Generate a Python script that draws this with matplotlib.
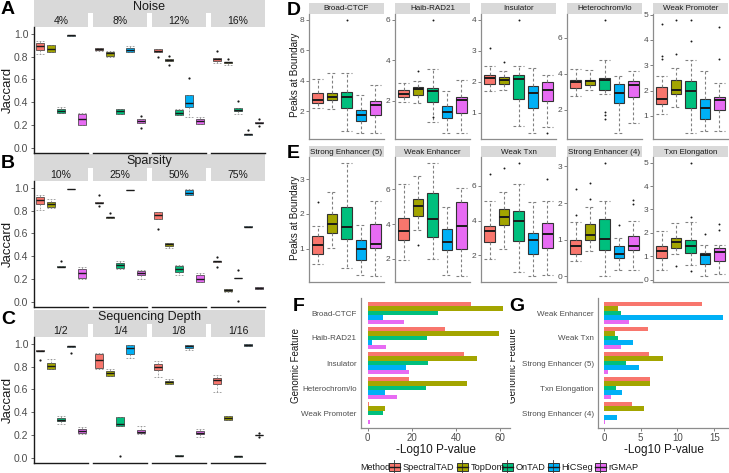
import matplotlib
matplotlib.use("Agg")
import matplotlib.pyplot as plt
from matplotlib.patches import Rectangle

plt.rcParams['font.family'] = ['Liberation Sans', 'DejaVu Sans']

W, H = 729, 473

methods = ["SpectralTAD", "TopDom", "OnTAD", "HiCSeg", "rGMAP"]
colors = ["#F8766D", "#A3A500", "#00BF7D", "#00B0F6", "#E76BF3"]

# ── A: Noise ─────────────────────────────────────────────────────────────────
noise_labels = ["4%", "8%", "12%", "16%"]
noise_med = [[0.89, 0.87, 0.32, 0.99, 0.25], [0.87, 0.83, 0.32, 0.855, 0.235],
             [0.85, 0.77, 0.31, 0.39, 0.235], [0.78, 0.75, 0.335, 0.12, 0.22]]
noise_q1 = [[0.86, 0.84, 0.31, 0.985, 0.20], [0.855, 0.81, 0.30, 0.84, 0.22],
            [0.84, 0.765, 0.29, 0.355, 0.21], [0.76, 0.745, 0.32, 0.11, 0.215]]
noise_q3 = [[0.92, 0.90, 0.34, 0.992, 0.30], [0.88, 0.84, 0.34, 0.875, 0.25],
            [0.865, 0.775, 0.33, 0.46, 0.25], [0.79, 0.755, 0.35, 0.125, 0.225]]
noise_lo = [[0.82, 0.84, 0.31, 0.985, 0.20], [0.85, 0.80, 0.30, 0.84, 0.22],
            [0.84, 0.765, 0.29, 0.27, 0.21], [0.74, 0.73, 0.30, 0.11, 0.215]]
noise_hi = [[0.94, 0.90, 0.36, 0.992, 0.31], [0.88, 0.85, 0.34, 0.89, 0.25],
            [0.865, 0.775, 0.34, 0.46, 0.27], [0.79, 0.755, 0.35, 0.125, 0.225]]
noise_out = [[[], [], [], [], []], [[], [], [], [], [0.28, 0.17]],
             [[0.80], [0.81, 0.73], [], [0.61], []], [[0.85], [0.78], [0.41], [0.16], [0.25, 0.19]]]

# ── B: Sparsity ──────────────────────────────────────────────────────────────
sparsity_labels = ["10%", "25%", "50%", "75%"]
sparsity_med = [[0.89, 0.86, 0.31, 0.99, 0.255], [0.87, 0.74, 0.325, 0.98, 0.25],
                [0.76, 0.505, 0.285, 0.955, 0.20], [0.355, 0.105, 0.21, 0.66, 0.125]]
sparsity_q1 = [[0.86, 0.83, 0.305, 0.987, 0.21], [0.867, 0.737, 0.30, 0.978, 0.24],
               [0.73, 0.49, 0.265, 0.935, 0.17], [0.352, 0.095, 0.207, 0.657, 0.115]]
sparsity_q3 = [[0.92, 0.88, 0.315, 0.992, 0.29], [0.873, 0.743, 0.34, 0.982, 0.275],
               [0.785, 0.52, 0.315, 0.985, 0.24], [0.358, 0.115, 0.213, 0.663, 0.13]]
sparsity_lo = [[0.81, 0.82, 0.305, 0.987, 0.20], [0.867, 0.737, 0.29, 0.978, 0.20],
               [0.73, 0.47, 0.24, 0.935, 0.17], [0.352, 0.09, 0.207, 0.657, 0.115]]
sparsity_hi = [[0.94, 0.90, 0.315, 0.992, 0.31], [0.873, 0.743, 0.36, 0.982, 0.28],
               [0.79, 0.52, 0.32, 0.99, 0.25], [0.358, 0.115, 0.213, 0.663, 0.13]]
sparsity_out = [[[], [], [0.36], [], []], [[0.94, 0.84], [0.78], [], [], []],
                [[0.64], [], [], [], []], [[0.39, 0.31], [], [0.28, 0.01], [], []]]

# ── C: Sequencing depth ──────────────────────────────────────────────────────
depth_labels = ["1/2", "1/4", "1/8", "1/16"]
depth_med = [[0.94, 0.81, 0.335, 0.98, 0.235], [0.86, 0.74, 0.30, 0.96, 0.23],
             [0.80, 0.665, 0.02, 0.98, 0.22], [0.68, 0.35, 0.015, 0.99, 0.20]]
depth_q1 = [[0.935, 0.78, 0.32, 0.975, 0.215], [0.79, 0.72, 0.28, 0.91, 0.215],
            [0.77, 0.65, 0.018, 0.96, 0.21], [0.65, 0.33, 0.01, 0.985, 0.197]]
depth_q3 = [[0.945, 0.83, 0.35, 0.985, 0.255], [0.91, 0.76, 0.355, 0.99, 0.245],
            [0.82, 0.675, 0.022, 0.99, 0.235], [0.70, 0.365, 0.02, 0.995, 0.203]]
depth_lo = [[0.935, 0.78, 0.30, 0.975, 0.21], [0.78, 0.72, 0.28, 0.88, 0.21],
            [0.71, 0.65, 0.018, 0.95, 0.18], [0.58, 0.33, 0.01, 0.985, 0.197]]
depth_hi = [[0.945, 0.87, 0.37, 0.985, 0.27], [0.92, 0.78, 0.36, 0.99, 0.28],
            [0.85, 0.69, 0.022, 0.99, 0.25], [0.73, 0.37, 0.02, 0.995, 0.203]]
depth_out = [[[0.86], [], [], [0.92], []], [[], [], [0.02], [], []],
             [[], [], [], [], []], [[], [], [], [], [0.22, 0.18]]]

# ── D: peaks at boundary ─────────────────────────────────────────────────────
d_facets = ["Broad-CTCF", "Haib-RAD21", "Insulator", "Heterochrom/lo", "Weak Promoter"]
d_ticks = [[2, 4, 6, 8], [2, 4, 6], [1, 2, 3, 4], [2, 4, 6], [1, 2, 3, 4, 5]]
d_med = [[2.77, 2.95, 2.95, 1.80, 2.44], [2.33, 2.58, 2.51, 1.47, 2.05],
         [2.13, 2.06, 2.07, 1.63, 1.73], [3.52, 3.59, 3.67, 2.92, 3.39],
         [1.67, 2.03, 2.00, 1.33, 1.63]]
d_q1 = [[2.57, 2.73, 2.24, 1.36, 1.78], [2.18, 2.30, 1.93, 1.14, 1.39],
        [1.92, 1.92, 1.44, 1.14, 1.38], [3.20, 3.39, 3.07, 2.36, 2.68],
        [1.46, 1.86, 1.33, 0.87, 1.24]]
d_q3 = [[3.21, 3.21, 3.25, 2.10, 2.66], [2.54, 2.67, 2.63, 1.75, 2.18],
        [2.22, 2.14, 2.22, 1.86, 1.98], [3.63, 3.67, 3.74, 3.44, 3.61],
        [2.14, 2.43, 2.39, 1.66, 1.73]]
d_lo = [[2.24, 2.18, 0.75, 0.57, 0.57], [1.93, 1.88, 0.98, 0.40, 0.40],
        [1.70, 1.73, 0.58, 0.33, 0.55], [2.77, 3.11, 2.87, 0.69, 1.28],
        [1.08, 1.34, 0.31, 0.41, 0.41]]
d_hi = [[4.15, 4.50, 4.50, 3.10, 3.76], [2.87, 3.00, 3.56, 2.49, 3.04],
        [2.52, 2.33, 2.52, 2.44, 2.22], [4.26, 4.19, 4.78, 3.89, 4.17],
        [2.58, 2.91, 3.22, 2.78, 2.29]]
d_out = [[[], [], [8.0], [], []], [[], [3.48], [6.0, 1.18], [], []],
         [[3.1], [2.63], [4.0], [], [0.33]], [[], [], [7.0, 1.9, 1.7, 1.5], [], []],
         [[4.63, 3.35, 3.24], [4.8, 3.46], [4.8, 3.94], [], [4.5, 3.24]]]

# ── E: peaks at boundary ─────────────────────────────────────────────────────
e_facets = ["Strong Enhancer (5)", "Weak Enhancer", "Weak Txn", "Strong Enhancer (4)", "Txn Elongation"]
e_ticks = [[1, 2, 3], [2, 4, 6], [2, 4, 6], [0, 1, 2, 3], [0, 1, 2, 3, 4, 5]]
e_med = [[1.10, 1.71, 1.63, 0.98, 1.14], [3.60, 5.03, 4.28, 2.97, 3.87],
         [3.38, 4.21, 3.96, 2.90, 3.25], [0.84, 1.14, 1.03, 0.61, 0.82],
         [1.21, 1.61, 1.43, 1.07, 1.19]]
e_q1 = [[0.84, 1.45, 1.27, 0.68, 1.03], [3.06, 4.45, 3.26, 2.48, 2.58],
        [2.77, 3.73, 2.81, 2.10, 2.44], [0.61, 1.00, 0.73, 0.50, 0.71],
        [0.94, 1.37, 1.14, 0.66, 0.80]]
e_q3 = [[1.37, 2.00, 2.19, 1.24, 1.72], [4.38, 5.44, 5.80, 3.74, 5.25],
        [3.69, 4.65, 4.54, 3.31, 3.88], [1.00, 1.44, 1.56, 0.84, 1.10],
        [1.43, 1.80, 1.69, 1.14, 1.33]]
e_lo = [[0.55, 1.03, 0.45, 0.23, 0.20], [1.94, 3.64, 2.00, 1.03, 0.98],
        [1.81, 2.38, 1.04, 0.79, 0.88], [0.43, 0.68, 0.00, 0.16, 0.17],
        [0.40, 1.11, 0.61, 0.14, 0.23]]
e_hi = [[1.66, 2.64, 3.48, 1.68, 2.37], [6.30, 6.77, 7.55, 4.96, 6.06],
        [5.12, 5.62, 6.08, 5.08, 5.13], [1.47, 1.88, 2.06, 1.05, 1.51],
        [2.09, 2.40, 2.47, 1.47, 1.47]]
e_out = [[[2.35], [], [], [], []], [[], [2.77], [], [], []],
         [[6.65], [7.0], [7.33], [], [6.37]], [[2.38, 1.67], [2.54, 2.1], [3.1], [1.4], [2.08, 1.96]],
         [[], [0.57], [5.0, 2.69, 0.37], [1.93], [2.36, 2.14]]]

# ── F / G: -log10 p-values ───────────────────────────────────────────────────
f_features = ["Broad-CTCF", "Haib-RAD21", "Insulator", "Heterochrom/lo", "Weak Promoter"]
f_vals = [[47.0, 35.0, 43.5, 18.8, 0.5],     # SpectralTAD
          [61.5, 59.5, 49.5, 45.0, 8.0],     # TopDom
          [32.0, 27.0, 27.3, 26.3, 6.8],     # OnTAD
          [7.0, 1.8, 17.3, 8.0, 0.3],        # HiCSeg
          [16.5, 8.5, 18.8, 13.3, 1.0]]      # rGMAP
g_features = ["Weak Enhancer", "Weak Txn", "Strong Enhancer (5)", "Txn Elongation", "Strong Enhancer (4)"]
g_vals = [[13.4, 6.0, 6.1, 6.3, 3.8],
          [1.9, 1.5, 8.0, 6.3, 5.5],
          [2.3, 1.9, 3.0, 1.6, 0.0],
          [16.2, 3.9, 4.7, 2.5, 1.8],
          [3.4, 2.3, 0.6, 0.9, 0.2]]


fig = plt.figure(figsize=(W / 100, H / 100), dpi=100)
lay = fig.add_axes([0, 0, 1, 1])
lay.set_xlim(0, W)
lay.set_ylim(H, 0)
lay.axis("off")

TICK_C = "#4D4D4D"


def rect(x0, y0, x1, y1):
    return [x0 / W, 1 - y1 / H, (x1 - x0) / W, (y1 - y0) / H]


def strip(x0, y0, x1, y1, text, size):
    lay.add_patch(Rectangle((x0, y0), x1 - x0, y1 - y0, facecolor="#D9D9D9", edgecolor="none"))
    lay.text((x0 + x1) / 2, (y0 + y1) / 2 + 0.5, text, ha="center", va="center",
             fontsize=size, color="#1A1A1A")


def letter(x, y, s):
    lay.text(x, y, s, ha="left", va="top", fontsize=14, fontweight="bold", color="black")


def box_stats(med, q1, q3, lo, hi, out):
    return [dict(med=m, q1=a, q3=b, whislo=l, whishi=h, fliers=f)
            for m, a, b, l, h, f in zip(med, q1, q3, lo, hi, out)]


def draw_boxes(ax, stats, width, lw, medlw, msize):
    bp = ax.bxp(stats, positions=range(1, 6), widths=width, capwidths=width,
                patch_artist=True, showfliers=True,
                boxprops=dict(edgecolor="#333333", linewidth=lw),
                medianprops=dict(color="#1A1A1A", linewidth=medlw, solid_capstyle="butt"),
                whiskerprops=dict(color="#808080", linestyle=(0, (2.5, 2)), linewidth=lw),
                capprops=dict(color="#808080", linestyle=(0, (2.5, 2)), linewidth=lw),
                flierprops=dict(marker="o", markersize=msize, markerfacecolor="#1A1A1A",
                                markeredgecolor="none"))
    for patch, c in zip(bp["boxes"], colors):
        patch.set_facecolor(c)


# ── Panels A-C ───────────────────────────────────────────────────────────────
FX = [34, 93, 152, 211]


def jaccard_panel(top, let, title, labels, med, q1, q3, lo, hi, out):
    strip(34, top, 265, top + 13.5, title, 9)
    for i, x0 in enumerate(FX):
        strip(x0, top + 13.5, x0 + 54, top + 27, labels[i], 7.5)
        ax = fig.add_axes(rect(x0, top + 27, x0 + 54, top + 153))
        draw_boxes(ax, box_stats(med[i], q1[i], q3[i], lo[i], hi[i], out[i]),
                   0.75, 0.5, 1.0, 1.6)
        ax.set_xlim(0.4, 5.6)
        ax.set_ylim(-0.045, 1.06)
        ax.set_xticks([])
        for s in ["top", "right"]:
            ax.spines[s].set_visible(False)
        ax.spines["bottom"].set_color("#1A1A1A")
        ax.spines["bottom"].set_linewidth(1.0)
        if i == 0:
            ax.set_yticks([0, 0.2, 0.4, 0.6, 0.8, 1.0])
            ax.set_yticklabels(["0.0", "0.2", "0.4", "0.6", "0.8", "1.0"])
            ax.tick_params(axis="y", labelsize=7.5, colors=TICK_C, length=2.5, width=0.6, pad=1.5)
            ax.spines["left"].set_color("#1A1A1A")
            ax.spines["left"].set_linewidth(1.0)
        else:
            ax.set_yticks([])
            ax.spines["left"].set_visible(False)
        ax.patch.set_alpha(0)
    lay.text(8, top + 90, "Jaccard", rotation=90, ha="center", va="center", fontsize=9.5,
             color="#1A1A1A")
    letter(1, top + 1, let)


jaccard_panel(0, "A", "Noise", noise_labels, noise_med, noise_q1, noise_q3, noise_lo, noise_hi, noise_out)
jaccard_panel(154, "B", "Sparsity", sparsity_labels, sparsity_med, sparsity_q1, sparsity_q3,
              sparsity_lo, sparsity_hi, sparsity_out)
jaccard_panel(310, "C", "Sequencing Depth", depth_labels, depth_med, depth_q1, depth_q3,
              depth_lo, depth_hi, depth_out)

# ── Panels D-E ───────────────────────────────────────────────────────────────
DX = [309, 395, 481, 567, 653]


def peaks_panel(top, let, facets, ticks, med, q1, q3, lo, hi, out):
    for i, x0 in enumerate(DX):
        strip(x0, top, x0 + 75, top + 11, facets[i], 5.8)
        ax = fig.add_axes(rect(x0, top + 11, x0 + 75, top + 136))
        draw_boxes(ax, box_stats(med[i], q1[i], q3[i], lo[i], hi[i], out[i]),
                   0.72, 0.8, 1.4, 1.4)
        vals = lo[i] + hi[i] + [v for f in out[i] for v in f]
        vmin, vmax = min(vals), max(vals)
        pad = 0.05 * (vmax - vmin)
        ax.set_ylim(vmin - pad, vmax + pad)
        ax.set_xlim(0.4, 5.6)
        ax.set_xticks([])
        ax.set_yticks(ticks[i])
        ax.tick_params(axis="y", labelsize=6, colors=TICK_C, length=2, width=0.5, pad=1.2)
        for s in ["top", "right"]:
            ax.spines[s].set_visible(False)
        for s in ["left", "bottom"]:
            ax.spines[s].set_color("#8C8C8C")
            ax.spines[s].set_linewidth(0.9)
    lay.text(295, top + 72, "Peaks at Boundary", rotation=90, ha="center", va="center",
             fontsize=7.2, color="#1A1A1A")
    letter(287, top - 1, let)


peaks_panel(3, "D", d_facets, d_ticks, d_med, d_q1, d_q3, d_lo, d_hi, d_out)
peaks_panel(146, "E", e_facets, e_ticks, e_med, e_q1, e_q3, e_lo, e_hi, e_out)

# ── Panels F-G ───────────────────────────────────────────────────────────────


def bar_panel(x0, x1, features, vals, xticks, xmax, let, lx, ylx):
    ax = fig.add_axes(rect(x0, 298, x1, 428))
    h = 0.9 / 5
    for j in range(5):
        ys = [k + 1 + (j - 2) * h for k in range(len(features))]
        ax.barh(ys, vals[j], height=h, color=colors[j], edgecolor="none")
    ax.set_ylim(5.6, 0.4)
    ax.set_xlim(-0.05 * xmax, 1.05 * xmax)
    ax.set_yticks(range(1, 6))
    ax.set_yticklabels(features)
    ax.set_xticks(xticks)
    ax.tick_params(axis="y", labelsize=5.8, colors=TICK_C, length=0, pad=3)
    ax.tick_params(axis="x", labelsize=7, colors=TICK_C, length=2, width=0.5, pad=1.5)
    for s in ["top", "right"]:
        ax.spines[s].set_visible(False)
    for s in ["left", "bottom"]:
        ax.spines[s].set_color("#8C8C8C")
        ax.spines[s].set_linewidth(0.9)
    ax.set_xlabel("-Log10 P-value", fontsize=8.5, color="#1A1A1A", labelpad=1)
    lay.text(ylx, 365, "Genomic Feature", rotation=90, ha="center", va="center",
             fontsize=7, color="#1A1A1A")
    letter(lx, 298, let)


bar_panel(361, 510, f_features, f_vals, [0, 20, 40, 60], max(map(max, f_vals)), "F", 293, 296)
bar_panel(598, 729, g_features, g_vals, [0, 5, 10, 15], max(map(max, g_vals)), "G", 509, 513)

# ── Legend ───────────────────────────────────────────────────────────────────
lay.text(360, 467, "Method", ha="left", va="center", fontsize=6.5, color="#1A1A1A")
key_x = [388, 456, 501, 547, 594]
for kx, c, m in zip(key_x, colors, methods):
    lay.plot([kx + 6.5, kx + 6.5], [460, 474], color="#333333", lw=0.6)
    lay.add_patch(Rectangle((kx + 1, 463), 11, 8, facecolor=c, edgecolor="#333333", lw=0.7))
    lay.plot([kx + 1, kx + 12], [467, 467], color="#1A1A1A", lw=1.0)
    lay.text(kx + 14.5, 467, m, ha="left", va="center", fontsize=6.6, color="#1A1A1A")

fig.savefig("out.png", dpi=100)
